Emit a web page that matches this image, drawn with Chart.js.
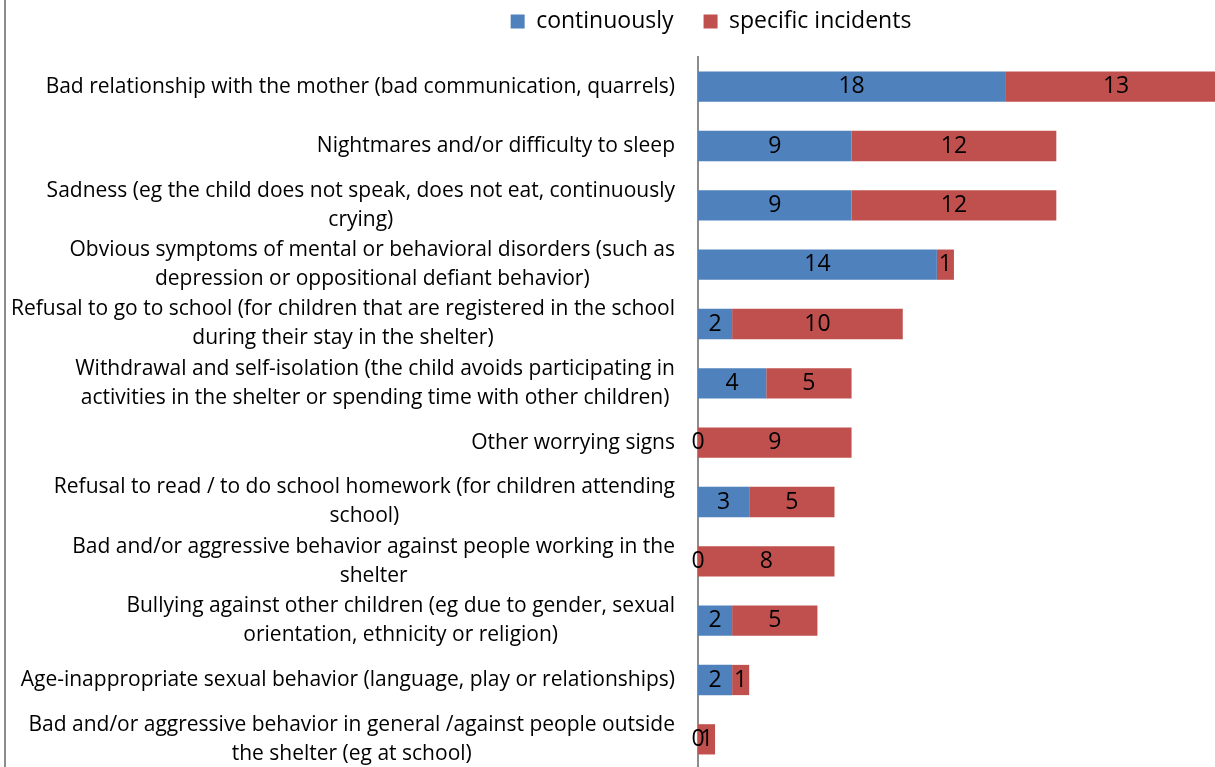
<!DOCTYPE html>
<html>
<head>
<meta charset="utf-8">
<script src="https://cdn.jsdelivr.net/npm/chart.js@4.4.1/dist/chart.umd.min.js"></script>
<style>
	html, body { margin: 0; padding: 0; background: #fff; overflow: hidden; }
	#wrap { position: relative; width: 1215px; height: 769px; }
	#wrap:before { content: ''; position: absolute; left: 4px; top: 0; bottom: 0; border-left: 2px solid #8c8c8c; }
</style>
</head>
<body>
<div id="wrap"><canvas id="chart"></canvas></div>
<script>
var categories = [
	["Bad relationship with the mother (bad communication, quarrels)"],
	["Nightmares and/or difficulty to sleep"],
	["Sadness (eg the child does not speak, does not eat, continuously", "crying)"],
	["Obvious symptoms of mental or behavioral disorders (such as", "depression or oppositional defiant behavior)"],
	["Refusal to go to school (for children that are registered in the school", "during their stay in the shelter)"],
	["Withdrawal and self-isolation (the child avoids participating in", "activities in the shelter or spending time with other children)"],
	["Other worrying signs"],
	["Refusal to read / to do school homework (for children attending", "school)"],
	["Bad and/or aggressive behavior against people working in the", "shelter"],
	["Bullying against other children (eg due to gender, sexual", "orientation, ethnicity or religion)"],
	["Age-inappropriate sexual behavior (language, play or relationships)"],
	["Bad and/or aggressive behavior in general /against people outside", "the shelter (eg at school)"]
]
var continuously = [18, 9, 9, 14, 2, 4, 0, 3, 0, 2, 2, 0]
var specific_incidents = [13, 12, 12, 1, 10, 5, 9, 5, 8, 5, 1, 1]
var series_names = ["continuously", "specific incidents"]

var FONT = '"Open Sans", sans-serif'

// category names drawn by hand: right aligned block, lines centred within it
var categoryLabels = {
	id: 'categoryLabels',
	afterDraw: function(chart) {
		var ctx = chart.ctx
		var yScale = chart.scales.y
		ctx.save()
		ctx.font = '21px ' + FONT
		ctx.fillStyle = '#000'
		ctx.textAlign = 'center'
		ctx.textBaseline = 'middle'
		categories.forEach(function(lines, i) {
			var w = Math.max.apply(null, lines.map(function(l) { return ctx.measureText(l).width }))
			var cx = chart.chartArea.left - 23 - w / 2
			var cy = yScale.getPixelForValue(i)
			lines.forEach(function(l, j) {
				ctx.fillText(l, cx, cy + (j - (lines.length - 1) / 2) * 29)
			})
		})
		ctx.restore()
	}
}

var valueLabels = {
	id: 'valueLabels',
	afterDatasetsDraw: function(chart) {
		var ctx = chart.ctx
		ctx.save()
		ctx.font = '23px ' + FONT
		ctx.fillStyle = '#000'
		ctx.textAlign = 'center'
		ctx.textBaseline = 'middle'
		chart.data.datasets.forEach(function(ds, di) {
			chart.getDatasetMeta(di).data.forEach(function(bar, i) {
				ctx.fillText(String(ds.data[i]), (bar.x + bar.base) / 2, bar.y)
			})
		})
		ctx.restore()
	}
}

new Chart(document.getElementById('chart'), {
	type: 'bar',
	data: {
		labels: categories,
		datasets: [
			{ label: series_names[0], data: continuously, backgroundColor: '#4F81BD', barPercentage: 0.51, categoryPercentage: 1 },
			{ label: series_names[1], data: specific_incidents, backgroundColor: '#C0504D', barPercentage: 0.51, categoryPercentage: 1 }
		]
	},
	options: {
		indexAxis: 'y',
		responsive: true,
		maintainAspectRatio: false,
		animation: false,
		layout: { padding: { left: 207, right: 0, top: -20, bottom: 0 } },
		scales: {
			x: {
				stacked: true,
				position: 'top',
				min: 0,
				max: 30.3,
				grid: { display: false },
				border: { display: false },
				ticks: { display: false },
				afterFit: function(s) { s.height = 14 }
			},
			y: {
				stacked: true,
				grid: { display: false },
				border: { display: true, color: '#8c8c8c', width: 2 },
				ticks: { display: false },
				afterFit: function(s) { s.width = 491 }
			}
		},
		plugins: {
			legend: {
				position: 'top',
				labels: {
					boxWidth: 14,
					boxHeight: 14,
					padding: 30,
					color: '#000',
					font: { family: FONT, size: 23 }
				}
			},
			tooltip: { enabled: false }
		}
	},
	plugins: [categoryLabels, valueLabels]
})
</script>
</body>
</html>
